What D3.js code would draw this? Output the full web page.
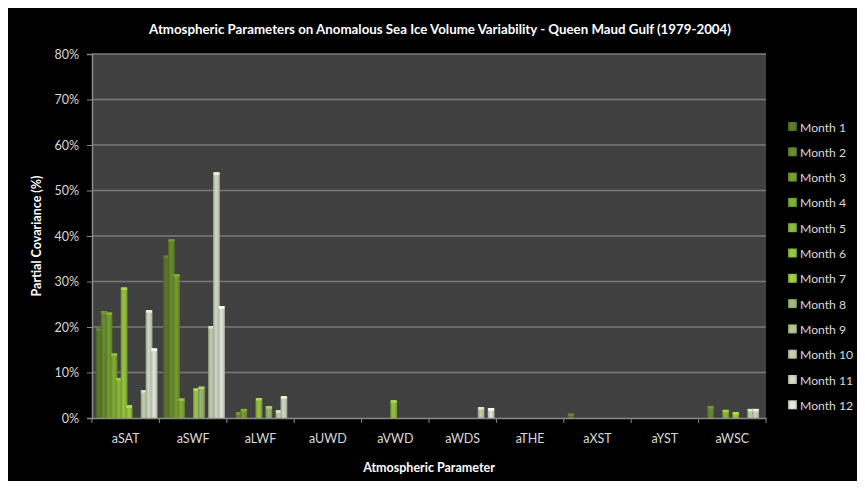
<!DOCTYPE html>
<html><head><meta charset="utf-8">
<script src="https://cdn.jsdelivr.net/npm/d3@7"></script>
<style>body{margin:0;background:#fff;}svg{display:block;font-family:Lato,"Open Sans",sans-serif;}</style>
</head><body><svg id="c" width="865" height="489"></svg>
<script>
const categories = ["aSAT","aSWF","aLWF","aUWD","aVWD","aWDS","aTHE","aXST","aYST","aWSC"];
const months = ["Month 1","Month 2","Month 3","Month 4","Month 5","Month 6","Month 7","Month 8","Month 9","Month 10","Month 11","Month 12"];
// values in percent, one array per month, aligned with categories
const month1  = [19.7, 35.7, 0,   0, 0,   0,   0, 1.0, 0, 0];
const month2  = [23.5, 39.3, 1.3, 0, 0,   0,   0, 0,   0, 2.6];
const month3  = [23.2, 31.6, 2.0, 0, 0,   0,   0, 0,   0, 0];
const month4  = [14.2, 4.3,  0,   0, 0,   0,   0, 0,   0, 0];
const month5  = [8.8,  0,    0,   0, 0,   0,   0, 0,   0, 1.8];
const month6  = [28.7, 0,    4.4, 0, 3.9, 0,   0, 0,   0, 0];
const month7  = [2.8,  6.5,  0,   0, 0,   0,   0, 0,   0, 1.3];
const month8  = [0,    6.9,  2.6, 0, 0,   0,   0, 0,   0, 0];
const month9  = [0,    0,    0,   0, 0,   0,   0, 0,   0, 0];
const month10 = [6.1,  20.2, 1.7, 0, 0,   2.4, 0, 0,   0, 2.0];
const month11 = [23.7, 54.0, 4.8, 0, 0,   0,   0, 0,   0, 2.0];
const month12 = [15.3, 24.6, 0,   0, 0,   2.2, 0, 0,   0, 0];
const seriesValues = [month1,month2,month3,month4,month5,month6,month7,month8,month9,month10,month11,month12];
const yTicks = [0,10,20,30,40,50,60,70,80];
const colors = ["#526f26","#5e7f2a","#6a8f2e","#769e32","#80aa36","#89b23a","#90b83e","#8fa866","#9fb482","#b0bca0","#bec6b2","#cdd1c6"];

const svg = d3.select("#c");
svg.append("rect").attr("x",8).attr("y",8).attr("width",849).attr("height",473).attr("fill","#000");

const L=92,R=766,T=54,B=418;
const x0 = d3.scaleBand().domain(categories).range([L,R]).padding(0);
const x1 = d3.scaleBand().domain(months).range([0,x0.bandwidth()]).paddingInner(0).paddingOuter(0.74);
const y = d3.scaleLinear().domain([0,80]).range([B,T]);

svg.append("rect").attr("x",L).attr("y",T).attr("width",R-L).attr("height",B-T).attr("fill","#404040");

const defs = svg.append("defs");
colors.forEach((c,i)=>{
  const g = defs.append("linearGradient").attr("id","g"+i).attr("x1","0").attr("x2","1").attr("y1","0").attr("y2","0");
  const base = d3.color(c);
  g.append("stop").attr("offset","0%").attr("stop-color",base.darker(0.5));
  g.append("stop").attr("offset","40%").attr("stop-color",base.brighter(0.25));
  g.append("stop").attr("offset","75%").attr("stop-color",base);
  g.append("stop").attr("offset","100%").attr("stop-color",base.darker(0.6));
});

svg.append("g").selectAll("line").data(yTicks.slice(1)).join("line")
  .attr("x1",L).attr("x2",R).attr("y1",d=>y(d)).attr("y2",d=>y(d))
  .attr("stroke","#7a7a7a").attr("stroke-width",1.5);

const bw = x1.bandwidth();
seriesValues.forEach((vals,i)=>{
  const g = svg.append("g");
  categories.forEach((cat,j)=>{
    const v = vals[j];
    if(!v) return;
    const bx = x0(cat)+x1(months[i]);
    g.append("rect").attr("x",bx).attr("y",y(v)).attr("width",bw+1.8).attr("height",B-y(v))
      .attr("fill","url(#g"+i+")");
    g.append("rect").attr("x",bx+0.5).attr("y",y(v)).attr("width",bw+0.8).attr("height",Math.min(2.5,B-y(v)))
      .attr("fill",d3.color(colors[i]).brighter(0.6));
  });
});

const yAxis = svg.append("g").attr("transform",`translate(${L},0)`)
  .call(d3.axisLeft(y).tickValues(yTicks).tickFormat(d=>d+"%").tickSize(5).tickPadding(8));
yAxis.select(".domain").attr("stroke","#8a8a8a").attr("stroke-width",1.5);
yAxis.selectAll(".tick line").attr("stroke","#8a8a8a");
yAxis.selectAll("text").attr("fill","#d9d9d9").attr("font-size",12.5).attr("font-family","Lato, sans-serif");

const xAxis = svg.append("g").attr("transform",`translate(0,${B})`)
  .call(d3.axisBottom(x0).tickSize(0).tickPadding(16));
xAxis.select(".domain").attr("stroke","#8a8a8a").attr("stroke-width",1.5);
xAxis.selectAll("text").attr("fill","#d9d9d9").attr("font-size",12.5).attr("font-family","Lato, sans-serif");
const bounds = categories.map(c=>x0(c)).concat([R]);
svg.append("g").selectAll("line").data(bounds).join("line")
  .attr("x1",d=>d).attr("x2",d=>d).attr("y1",B).attr("y2",B+5).attr("stroke","#8a8a8a");

svg.append("text").attr("x",440).attr("y",34).attr("text-anchor","middle").attr("fill","#fff")
  .attr("font-weight","bold").attr("font-size",13.3).text("Atmospheric Parameters on Anomalous  Sea Ice Volume Variability - Queen Maud  Gulf (1979-2004)");
svg.append("text").attr("x",429).attr("y",472).attr("text-anchor","middle").attr("fill","#fff")
  .attr("font-weight","bold").attr("font-size",12.5).text("Atmospheric Parameter");
svg.append("text").attr("transform","translate(41,236) rotate(-90)").attr("text-anchor","middle").attr("fill","#fff")
  .attr("font-weight","bold").attr("font-size",12.5).text("Partial Covariance (%)");

const lg = svg.append("g");
months.forEach((m,i)=>{
  const ly = 127 + i*25.3;
  lg.append("rect").attr("x",788).attr("y",ly-5).attr("width",9).attr("height",9).attr("fill","url(#g"+i+")");
  lg.append("rect").attr("x",789.5).attr("y",ly-3.5).attr("width",6).attr("height",6).attr("fill",d3.color(colors[i]).brighter(0.3));
  lg.append("text").attr("x",800).attr("y",ly+4.5).attr("fill","#d9d9d9").attr("font-size",12.2).text(m);
});
</script></body></html>
